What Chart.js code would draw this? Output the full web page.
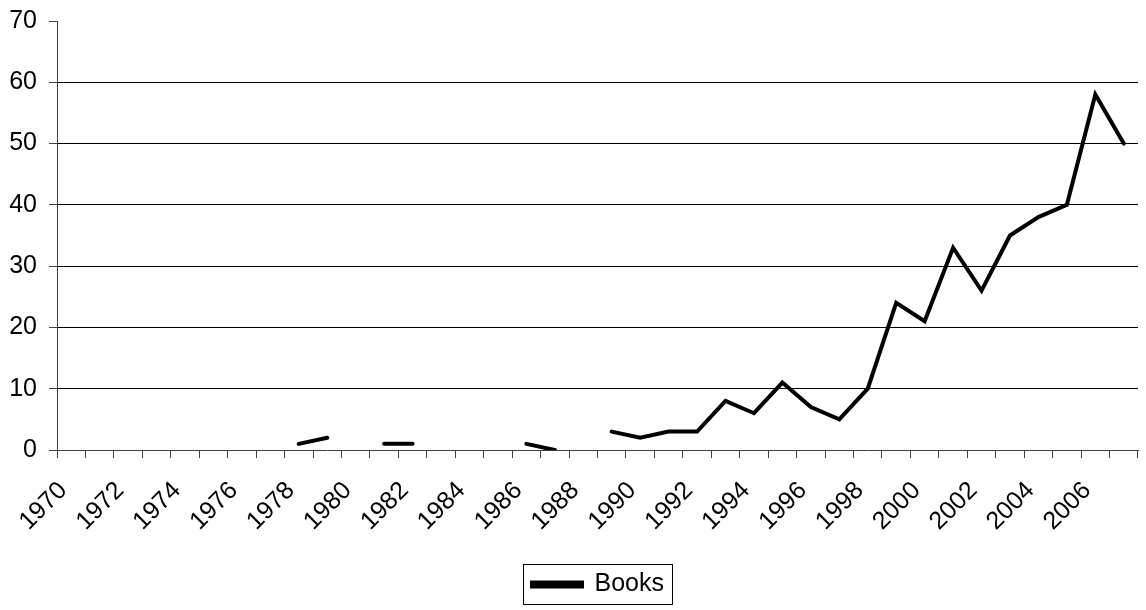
<!DOCTYPE html>
<html>
<head>
<meta charset="utf-8">
<script src="https://cdn.jsdelivr.net/npm/chart.js@4/dist/chart.umd.min.js"></script>
<style>
  html, body { margin: 0; padding: 0; background: #fff; }
  #wrap { width: 1146px; height: 610px; }
</style>
</head>
<body>
<div id="wrap"><canvas id="chart" width="1146" height="610"></canvas></div>
<script>
// categories (one per year)
var years = [
  "1970", "1971", "1972", "1973", "1974", "1975", "1976", "1977", "1978", "1979",
  "1980", "1981", "1982", "1983", "1984", "1985", "1986", "1987", "1988", "1989",
  "1990", "1991", "1992", "1993", "1994", "1995", "1996", "1997", "1998", "1999",
  "2000", "2001", "2002", "2003", "2004", "2005", "2006", "2007"
];

// books per year, null = no value (gap in the line)
var books = [
  null, null, null, null, null, null, null, null, 1, 2,
  null, 1, 1, null, null, null, 1, 0, null, 3,
  2, 3, 3, 8, 6, 11, 7, 5, 10, 24,
  21, 33, 26, 35, 38, 40, 58, 50
];

// value axis: 0 to 70, every 10
var yMin = 0;
var yMax = 70;
var yStep = 10;

var FONT = "'Liberation Sans', Arial, sans-serif";
var AXIS = "#404040";

// legend sits under the plot area, not under the whole canvas
var legendShift = {
  id: "legendShift",
  afterLayout: function (chart) {
    var legend = chart.legend;
    if (!legend) return;
    var area = chart.chartArea;
    var dx = Math.round((area.left + area.right) / 2 - (legend.left + legend.right) / 2);
    legend.left += dx;
    legend.right += dx;
    (legend.legendHitBoxes || []).forEach(function (hb) { hb.left += dx; });
  },
  // frame round the legend, like the original
  afterDraw: function (chart) {
    var legend = chart.legend;
    if (!legend || !legend.legendHitBoxes || !legend.legendHitBoxes.length) {
      return;
    }
    var hb = legend.legendHitBoxes[0];
    var ctx = chart.ctx;
    ctx.save();
    ctx.strokeStyle = "#000";
    ctx.lineWidth = 1;
    ctx.strokeRect(
      Math.round(hb.left - 9) + 0.5,
      Math.round(hb.top - 8) + 0.5,
      Math.round(hb.width + 17),
      Math.round(hb.height + 15)
    );
    ctx.restore();
  }
};

new Chart(document.getElementById("chart"), {
  type: "line",
  data: {
    labels: years,
    datasets: [{
      label: "Books",
      data: books,
      borderColor: "#000",
      backgroundColor: "#000",
      borderWidth: 4,
      borderCapStyle: "round",
      pointRadius: 0,
      pointHoverRadius: 0,
      tension: 0,
      spanGaps: false,
      fill: false
    }]
  },
  options: {
    responsive: false,
    devicePixelRatio: 1,
    animation: false,
    layout: { padding: { left: 0, right: 8, top: 21, bottom: 3 } },
    plugins: {
      tooltip: { enabled: false },
      legend: {
        position: "bottom",
        labels: {
          color: "#000",
          font: { family: FONT, size: 25 },
          boxWidth: 50,
          boxHeight: 4,
          padding: 10
        }
      }
    },
    scales: {
      x: {
        type: "category",
        offset: true,
        afterFit: function (scale) {
          scale.height = 112;
          scale.paddingLeft = 0;
          scale.paddingRight = 0;
        },
        border: { display: true, color: AXIS, width: 1 },
        grid: {
          offset: true,
          drawOnChartArea: false,
          drawTicks: true,
          tickLength: 8,
          color: AXIS
        },
        ticks: {
          autoSkip: false,
          maxRotation: 45,
          minRotation: 45,
          labelOffset: -8,
          padding: 18,
          color: "#000",
          font: { family: FONT, size: 25 },
          callback: function (val, i) {
            return i % 2 === 0 ? years[i] : "";
          }
        }
      },
      y: {
        min: yMin,
        max: yMax,
        afterFit: function (scale) {
          scale.width = 57;
          scale.paddingTop = 0;
          scale.paddingBottom = 0;
        },
        border: { display: true, color: AXIS, width: 1 },
        grid: {
          drawTicks: true,
          tickLength: 8,
          tickColor: AXIS,
          color: function (c) {
            var v = c.tick ? c.tick.value : null;
            return (v === yMin || v === yMax) ? "rgba(0,0,0,0)" : "#000";
          }
        },
        ticks: {
          stepSize: yStep,
          autoSkip: false,
          padding: 12,
          color: "#000",
          font: { family: FONT, size: 25 }
        }
      }
    }
  },
  plugins: [legendShift]
});
</script>
</body>
</html>
